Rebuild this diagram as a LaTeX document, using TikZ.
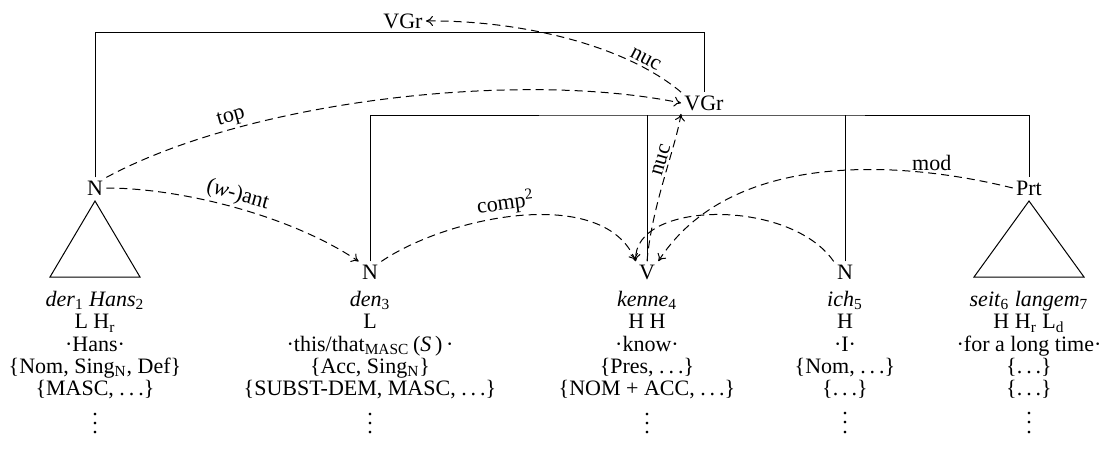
\documentclass[tikz,border=0pt]{standalone}
\usepackage{fontspec}
\setmainfont{Liberation Serif}
\usetikzlibrary{arrows.meta}
\newcommand\mydots{.\kern0.18em.\kern0.18em.}
\newcommand\myvdots{\vbox{\baselineskip4.6pt\lineskiplimit0pt\hbox{.}\hbox{.}\hbox{.}}}
\begin{document}
\begin{tikzpicture}[x=0.5pt,y=-0.5pt,
  every node/.style={font=\fontsize{11}{13}\selectfont, inner sep=1.5pt},
  tree/.style={line width=0.5pt},
  rel/.style={line width=0.5pt, dash pattern=on 4pt off 2.5pt, -{To[length=3.5pt,width=5pt]}},
  lab/.style={inner sep=1pt},
  info/.style={align=center, anchor=north, font=\fontsize{11}{11.1}\selectfont, inner sep=0pt},
  tri/.style={line width=0.5pt}
]
\useasboundingbox (0,0) rectangle (1107,467);

% category nodes
\node (VGrTop) at (403,21) {VGr};
\node (VGr) at (704,103) {VGr};
\node (Nder) at (95,188) {N};
\node (Nden) at (370,272) {N};
\node (V) at (647,272) {V};
\node (Nich) at (845,272) {N};
\node (Prt) at (1029,188) {Prt};

% tree lines
\coordinate (otop) at (704,32);
\coordinate (itop) at (704,115);
\draw[tree] (Nder.north) |- (otop) -- (VGr.north);
\draw[tree] (Nden.north) |- (itop) -| (Prt.north);
\draw[tree] (V.north) -- (V.north |- itop);
\draw[tree] (Nich.north) -- (Nich.north |- itop);

% triangles
\coordinate (t1a) at (95,201);
\coordinate (t1l) at (50,277);
\coordinate (t1r) at (140,277);
\draw[tri] (t1a) -- (t1l) -- (t1r) -- cycle;
\coordinate (t2a) at (1029,201);
\coordinate (t2l) at (974,277);
\coordinate (t2r) at (1084,277);
\draw[tri] (t2a) -- (t2l) -- (t2r) -- cycle;

% relations
\draw[rel] (Nder.north east) .. controls (250,100) and (520,70) .. (VGr.west)
  node[lab, pos=0.25, sloped, above] (ltop) {top};
\draw[rel] (Nder.east) .. controls (180,188) and (290,215) .. (Nden.north west)
  node[lab, pos=0.5, sloped, above] (lant) {(\textit{w}-)ant};
\draw[rel] (Nden.north east) .. controls (450,215) and (605,185) .. (V.north west)
  node[lab, pos=0.45, sloped, above] (lcomp) {comp\textsuperscript{2}};
\draw[rel] (Nich.north west) .. controls (790,198) and (633,200) .. (V.north west);
\draw[rel] (Prt.west) .. controls (900,160) and (730,150) .. (V.north east)
  node[lab, pos=0.22, above] (lmod) {mod};
\draw[rel] (V.north) .. controls (652,205) and (675,150) .. (VGr.south west)
  node[lab, pos=0.62, sloped, above] (lnuc1) {nuc};
\draw[rel] (VGr.north west) .. controls (625,45) and (520,20) .. (VGrTop.east)
  node[lab, pos=0.2, sloped, above] (lnuc2) {nuc};

% information stacks
\node[info] (c1) at (95,291) {\textit{der}\textsubscript{1} \textit{Hans}\textsubscript{2}\\ L H\textsubscript{r}\\ ·Hans·\\ \{Nom, Sing\textsubscript{N}, Def\}\\ \{MASC, \mydots\}\\[6pt] \myvdots};
\node[info] (c2) at (370,291) {\textit{den}\textsubscript{3}\\ L\\ ·this/that\textsubscript{MASC}\,(\textit{S}\,)\,·\\ \{Acc, Sing\textsubscript{N}\}\\ \{SUBST-DEM, MASC, \mydots\}\\[6pt] \myvdots};
\node[info] (c3) at (647,291) {\textit{kenne}\textsubscript{4}\\ H H\\ ·know·\\ \{Pres, \mydots\}\\ \{NOM + ACC, \mydots\}\\[6pt] \myvdots};
\node[info] (c4) at (845,291) {\textit{ich}\textsubscript{5}\\ H\\ ·I·\\ \{Nom, \mydots\}\\ \{\mydots\}\\[6pt] \myvdots};
\node[info] (c5) at (1029,291) {\textit{seit}\textsubscript{6} \textit{langem}\textsubscript{7}\\ H H\textsubscript{r} L\textsubscript{d}\\ ·for a long time·\\ \{\mydots\}\\ \{\mydots\}\\[6pt] \myvdots};
\end{tikzpicture}
\end{document}
